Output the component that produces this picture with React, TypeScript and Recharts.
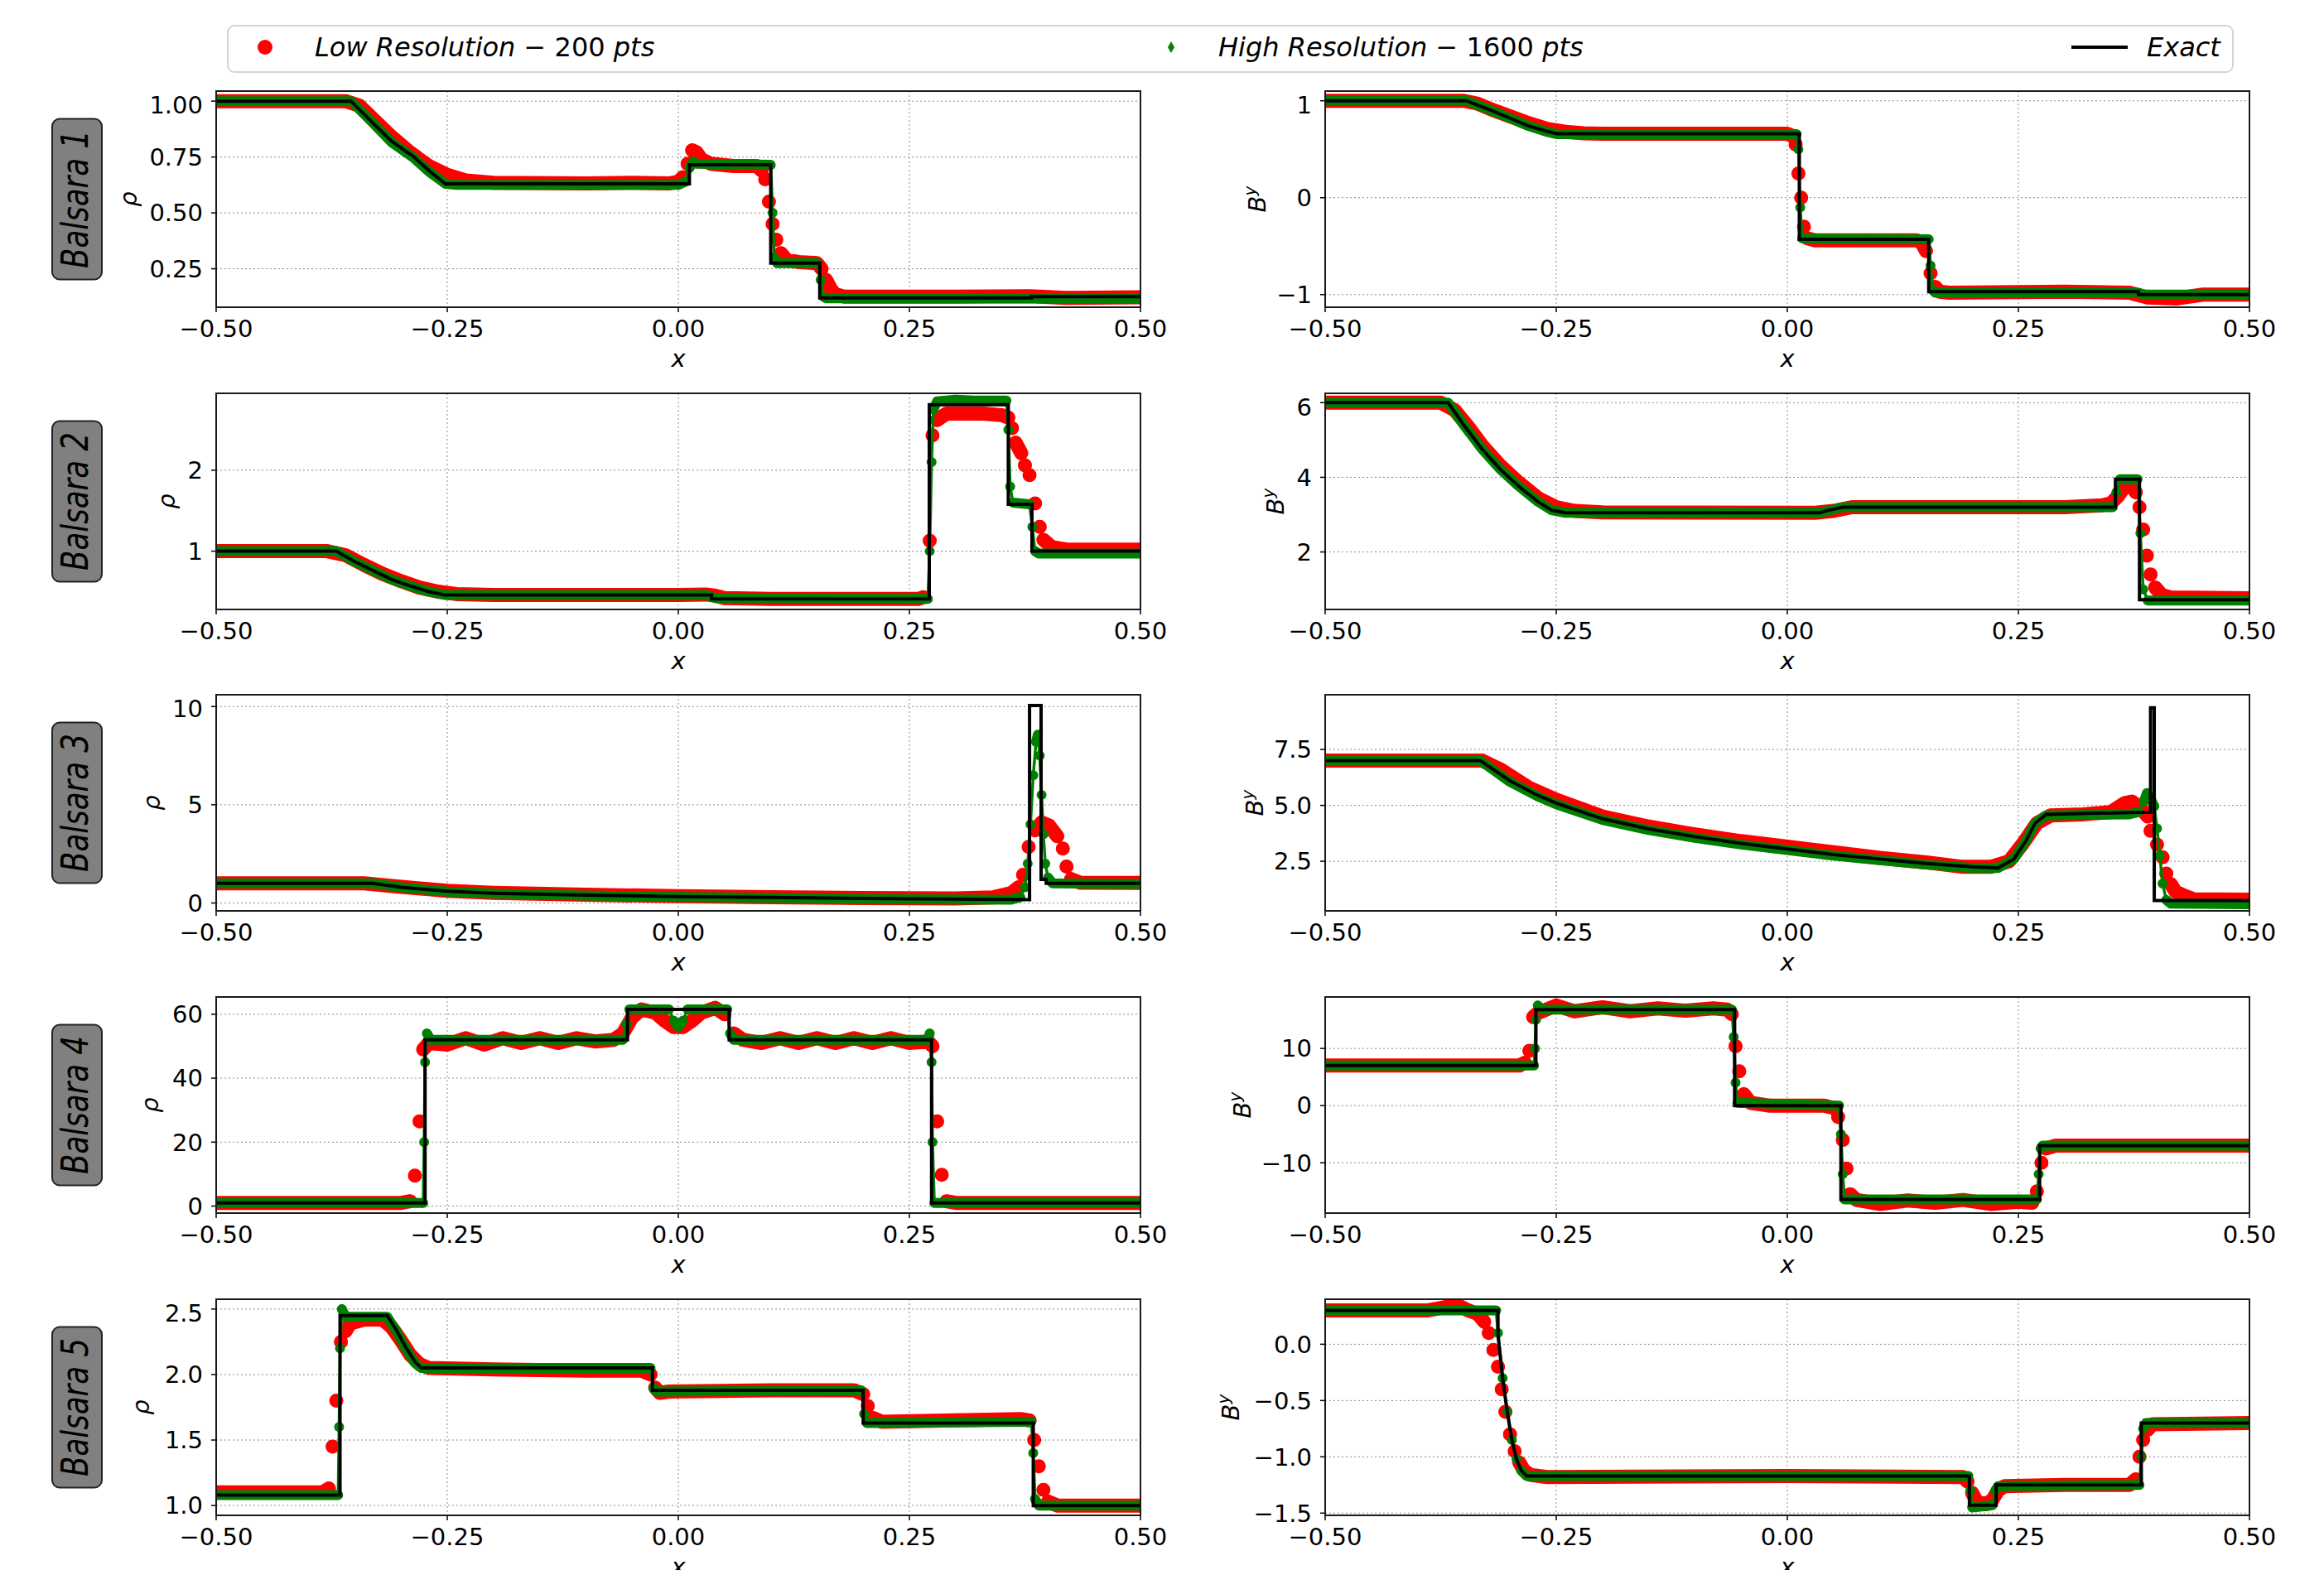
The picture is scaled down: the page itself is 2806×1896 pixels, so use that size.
import React from "react"
import { ComposedChart, Line, XAxis, YAxis, CartesianGrid } from "recharts"

type Pt = [number, number]

const xTicks = [-0.5, -0.25, 0, 0.25, 0.5]
const caseNames = ["Balsara 1", "Balsara 2", "Balsara 3", "Balsara 4", "Balsara 5"]

// ---- Balsara 1 ----
const b1RhoDomain: [number, number] = [0.078, 1.045]
const b1RhoTicks = [0.25, 0.5, 0.75, 1.0]
const b1RhoExact: Pt[] = [[-0.5, 1], [-0.354, 1], [-0.33, 0.9], [-0.31, 0.82], [-0.286, 0.75], [-0.27, 0.69], [-0.252, 0.63], [0.012, 0.63], [0.012, 0.715], [0.1, 0.715], [0.1, 0.275], [0.153, 0.275], [0.153, 0.12], [0.382, 0.12], [0.382, 0.125], [0.5, 0.125]]
const b1RhoLow: Pt[] = [[-0.5, 1], [-0.36, 1], [-0.345, 0.98], [-0.33, 0.92], [-0.31, 0.84], [-0.29, 0.77], [-0.27, 0.71], [-0.25, 0.67], [-0.23, 0.645], [-0.2, 0.635], [-0.1, 0.632], [-0.05, 0.635], [-0.01, 0.632], [0.0, 0.64], [0.005, 0.66], [0.01, 0.72], [0.015, 0.78], [0.02, 0.77], [0.025, 0.74], [0.035, 0.72], [0.06, 0.71], [0.085, 0.71], [0.09, 0.69], [0.094, 0.65], [0.098, 0.55], [0.102, 0.45], [0.106, 0.38], [0.111, 0.32], [0.117, 0.29], [0.13, 0.28], [0.15, 0.275], [0.155, 0.25], [0.16, 0.2], [0.165, 0.16], [0.17, 0.135], [0.18, 0.125], [0.3, 0.125], [0.38, 0.127], [0.42, 0.12], [0.5, 0.122]]
const b1RhoHigh: Pt[] = [[-0.5, 1], [-0.354, 1], [-0.33, 0.9], [-0.31, 0.815], [-0.286, 0.745], [-0.27, 0.685], [-0.252, 0.63], [-0.24, 0.625], [0.0, 0.625], [0.008, 0.64], [0.012, 0.7], [0.016, 0.73], [0.02, 0.72], [0.1, 0.715], [0.102, 0.5], [0.104, 0.3], [0.107, 0.275], [0.15, 0.275], [0.154, 0.2], [0.157, 0.125], [0.16, 0.118], [0.5, 0.118]]

const b1ByDomain: [number, number] = [-1.13, 1.1]
const b1ByTicks = [-1, 0, 1]
const b1ByExact: Pt[] = [[-0.5, 1], [-0.347, 1], [-0.32, 0.9], [-0.3, 0.82], [-0.28, 0.74], [-0.26, 0.685], [-0.249, 0.66], [0.013, 0.66], [0.013, -0.43], [0.153, -0.43], [0.153, -0.97], [0.38, -0.97], [0.38, -1], [0.5, -1]]
const b1ByLow: Pt[] = [[-0.5, 1], [-0.35, 1], [-0.335, 0.97], [-0.32, 0.91], [-0.3, 0.84], [-0.28, 0.77], [-0.26, 0.71], [-0.24, 0.68], [-0.22, 0.665], [-0.2, 0.66], [0.0, 0.66], [0.005, 0.64], [0.009, 0.55], [0.012, 0.25], [0.015, 0.0], [0.018, -0.3], [0.022, -0.42], [0.03, -0.44], [0.14, -0.44], [0.145, -0.46], [0.15, -0.55], [0.155, -0.78], [0.16, -0.92], [0.165, -0.97], [0.175, -0.98], [0.3, -0.97], [0.37, -0.98], [0.39, -1.03], [0.42, -1.04], [0.45, -1.0], [0.5, -1.0]]
const b1ByHigh: Pt[] = [[-0.5, 1], [-0.347, 1], [-0.32, 0.9], [-0.3, 0.82], [-0.28, 0.74], [-0.26, 0.68], [-0.249, 0.655], [0.01, 0.655], [0.012, 0.5], [0.014, -0.1], [0.016, -0.42], [0.153, -0.43], [0.155, -0.7], [0.157, -0.95], [0.16, -0.98], [0.38, -0.98], [0.385, -1.0], [0.5, -1.0]]

// ---- Balsara 2 ----
const b2RhoDomain: [number, number] = [0.28, 2.95]
const b2RhoTicks = [1, 2]
const b2RhoExact: Pt[] = [[-0.5, 1], [-0.37, 1], [-0.35, 0.87], [-0.33, 0.76], [-0.31, 0.65], [-0.29, 0.57], [-0.27, 0.5], [-0.253, 0.46], [0.036, 0.46], [0.036, 0.41], [0.2715, 0.41], [0.2715, 2.81], [0.357, 2.81], [0.357, 1.58], [0.3826, 1.58], [0.3826, 1.0], [0.5, 1.0]]
const b2RhoLow: Pt[] = [[-0.5, 1.0], [-0.38, 1.0], [-0.36, 0.95], [-0.34, 0.83], [-0.32, 0.72], [-0.3, 0.63], [-0.28, 0.55], [-0.26, 0.5], [-0.24, 0.47], [-0.2, 0.46], [0.0, 0.46], [0.03, 0.465], [0.04, 0.45], [0.05, 0.42], [0.1, 0.41], [0.26, 0.41], [0.265, 0.43], [0.272, 1.13], [0.275, 2.43], [0.28, 2.62], [0.29, 2.7], [0.33, 2.7], [0.35, 2.68], [0.357, 2.65], [0.361, 2.52], [0.365, 2.34], [0.371, 2.21], [0.375, 2.06], [0.38, 1.94], [0.386, 1.59], [0.391, 1.3], [0.395, 1.14], [0.404, 1.05], [0.42, 1.02], [0.5, 1.02]]
const b2RhoHigh: Pt[] = [[-0.5, 1.0], [-0.37, 1.0], [-0.35, 0.87], [-0.33, 0.76], [-0.31, 0.65], [-0.29, 0.57], [-0.27, 0.5], [-0.253, 0.46], [0.03, 0.46], [0.04, 0.42], [0.27, 0.41], [0.272, 1.0], [0.274, 2.1], [0.276, 2.75], [0.28, 2.85], [0.3, 2.87], [0.32, 2.86], [0.355, 2.86], [0.357, 2.5], [0.359, 1.8], [0.362, 1.6], [0.38, 1.58], [0.383, 1.3], [0.386, 1.0], [0.39, 0.97], [0.5, 0.97]]

const b2ByDomain: [number, number] = [0.46, 6.25]
const b2ByTicks = [2, 4, 6]
const b2ByExact: Pt[] = [[-0.5, 6], [-0.367, 6], [-0.35, 5.4], [-0.33, 4.75], [-0.31, 4.2], [-0.29, 3.75], [-0.27, 3.35], [-0.255, 3.12], [-0.24, 3.05], [0.035, 3.05], [0.045, 3.12], [0.06, 3.2], [0.355, 3.2], [0.355, 3.95], [0.381, 3.95], [0.381, 0.72], [0.5, 0.72]]
const b2ByLow: Pt[] = [[-0.5, 6], [-0.375, 6], [-0.36, 5.8], [-0.345, 5.35], [-0.33, 4.85], [-0.31, 4.3], [-0.29, 3.85], [-0.27, 3.45], [-0.25, 3.2], [-0.23, 3.1], [-0.2, 3.06], [0.03, 3.05], [0.05, 3.1], [0.07, 3.2], [0.3, 3.2], [0.34, 3.25], [0.35, 3.3], [0.358, 3.5], [0.365, 3.75], [0.372, 3.8], [0.377, 3.6], [0.381, 3.2], [0.385, 2.6], [0.389, 1.9], [0.393, 1.4], [0.398, 1.05], [0.405, 0.85], [0.415, 0.78], [0.5, 0.76]]
const b2ByHigh: Pt[] = [[-0.5, 6], [-0.367, 6], [-0.35, 5.4], [-0.33, 4.75], [-0.31, 4.2], [-0.29, 3.75], [-0.27, 3.35], [-0.255, 3.12], [-0.24, 3.05], [0.035, 3.05], [0.06, 3.2], [0.352, 3.2], [0.356, 3.6], [0.36, 3.95], [0.379, 3.95], [0.382, 2.5], [0.385, 1.0], [0.39, 0.7], [0.5, 0.7]]

// ---- Balsara 3 ----
const b3RhoDomain: [number, number] = [-0.4, 10.6]
const b3RhoTicks = [0, 5, 10]
const b3RhoExact: Pt[] = [[-0.5, 1], [-0.33, 1], [-0.3, 0.8], [-0.25, 0.6], [-0.2, 0.5], [-0.1, 0.4], [0, 0.33], [0.1, 0.28], [0.2, 0.23], [0.3, 0.2], [0.38, 0.17], [0.38, 10.05], [0.3925, 10.05], [0.3925, 1.2], [0.398, 1.2], [0.398, 1.0], [0.5, 1.0]]
const b3RhoLow: Pt[] = [[-0.5, 1.0], [-0.34, 1.0], [-0.3, 0.82], [-0.25, 0.62], [-0.2, 0.52], [-0.1, 0.42], [0, 0.35], [0.1, 0.3], [0.2, 0.25], [0.3, 0.23], [0.34, 0.28], [0.36, 0.5], [0.368, 0.8], [0.373, 1.43], [0.379, 2.86], [0.386, 3.7], [0.393, 4.1], [0.401, 3.95], [0.41, 3.4], [0.416, 2.77], [0.42, 1.85], [0.425, 1.22], [0.435, 1.03], [0.5, 1.02]]
const b3RhoHigh: Pt[] = [[-0.5, 1], [-0.33, 1], [-0.3, 0.8], [-0.25, 0.58], [-0.2, 0.48], [-0.1, 0.38], [0, 0.31], [0.1, 0.26], [0.2, 0.21], [0.3, 0.18], [0.36, 0.17], [0.37, 0.3], [0.375, 0.8], [0.378, 2], [0.381, 4], [0.384, 6.5], [0.387, 8.2], [0.389, 8.57], [0.391, 7.5], [0.393, 5.5], [0.395, 3.5], [0.397, 2.0], [0.4, 1.3], [0.405, 1.0], [0.5, 0.97]]

const b3ByDomain: [number, number] = [0.28, 9.95]
const b3ByTicks = [2.5, 5.0, 7.5]
const b3ByExact: Pt[] = [[-0.5, 7.0], [-0.332, 7.0], [-0.3, 6.1], [-0.27, 5.45], [-0.25, 5.1], [-0.2, 4.4], [-0.15, 3.95], [-0.1, 3.6], [-0.05, 3.3], [0, 3.05], [0.05, 2.8], [0.1, 2.6], [0.15, 2.4], [0.2, 2.25], [0.228, 2.2], [0.245, 2.6], [0.258, 3.4], [0.268, 4.2], [0.28, 4.6], [0.393, 4.7], [0.393, 9.37], [0.397, 9.37], [0.397, 0.74], [0.5, 0.74]]
const b3ByLow: Pt[] = [[-0.5, 7.0], [-0.33, 7.0], [-0.31, 6.6], [-0.28, 5.8], [-0.25, 5.25], [-0.2, 4.5], [-0.15, 4.05], [-0.1, 3.7], [-0.05, 3.4], [0, 3.15], [0.05, 2.9], [0.1, 2.65], [0.15, 2.45], [0.19, 2.25], [0.22, 2.25], [0.24, 2.5], [0.255, 3.3], [0.27, 4.2], [0.285, 4.55], [0.32, 4.6], [0.35, 4.7], [0.365, 5.1], [0.373, 5.17], [0.382, 4.9], [0.39, 4.5], [0.393, 3.86], [0.4, 3.24], [0.406, 2.68], [0.41, 1.95], [0.415, 1.47], [0.42, 1.14], [0.43, 0.95], [0.44, 0.8], [0.5, 0.78]]
const b3ByHigh: Pt[] = [[-0.5, 7.0], [-0.332, 7.0], [-0.3, 6.05], [-0.27, 5.4], [-0.25, 5.05], [-0.2, 4.35], [-0.15, 3.9], [-0.1, 3.55], [-0.05, 3.25], [0, 3.0], [0.05, 2.75], [0.1, 2.55], [0.15, 2.35], [0.2, 2.2], [0.228, 2.2], [0.245, 2.6], [0.258, 3.4], [0.268, 4.2], [0.28, 4.55], [0.37, 4.6], [0.38, 4.7], [0.386, 5.2], [0.389, 5.55], [0.393, 5.3], [0.397, 4.96], [0.4, 3.97], [0.403, 2.75], [0.406, 1.5], [0.41, 0.77], [0.415, 0.6], [0.5, 0.58]]

// ---- Balsara 4 ----
const b4RhoDomain: [number, number] = [-2.2, 65.4]
const b4RhoTicks = [0, 20, 40, 60]
const b4RhoExact: Pt[] = [[-0.5, 1], [-0.274, 1], [-0.274, 52], [-0.055, 52], [-0.055, 61.5], [0.055, 61.5], [0.055, 52], [0.274, 52], [0.274, 1], [0.5, 1]]
const b4RhoLow: Pt[] = [[-0.5, 1], [-0.3, 1], [-0.29, 1.5], [-0.285, 9.5], [-0.28, 26.5], [-0.276, 49], [-0.27, 51], [-0.25, 50.5], [-0.23, 52.5], [-0.21, 50.5], [-0.19, 52.5], [-0.17, 51], [-0.15, 52.5], [-0.13, 51], [-0.11, 52.5], [-0.09, 51.5], [-0.07, 52], [-0.06, 54], [-0.05, 59], [-0.04, 61.5], [-0.025, 60.5], [-0.015, 58], [-0.005, 56], [0.005, 56], [0.015, 58], [0.025, 60.5], [0.04, 62], [0.05, 60], [0.06, 54], [0.07, 52], [0.09, 51], [0.11, 52.5], [0.13, 51], [0.15, 52.5], [0.17, 51], [0.19, 52.5], [0.21, 51], [0.23, 52.5], [0.25, 51], [0.27, 51.5], [0.275, 50], [0.28, 26.5], [0.285, 9.8], [0.29, 1.5], [0.3, 1], [0.5, 1]]
const b4RhoHigh: Pt[] = [[-0.5, 1], [-0.276, 1], [-0.275, 20], [-0.274, 45], [-0.272, 54], [-0.268, 52], [-0.2, 52], [-0.06, 52], [-0.056, 57], [-0.053, 61.5], [-0.01, 61.5], [-0.005, 58], [0, 56], [0.005, 58], [0.01, 61.5], [0.053, 61.5], [0.056, 54], [0.06, 52], [0.27, 52], [0.272, 54], [0.274, 45], [0.275, 20], [0.277, 1], [0.5, 1]]

const b4ByDomain: [number, number] = [-18.8, 19.0]
const b4ByTicks = [-10, 0, 10]
const b4ByExact: Pt[] = [[-0.5, 7], [-0.272, 7], [-0.272, 16.8], [-0.057, 16.8], [-0.057, 0], [0.058, 0], [0.058, -16.4], [0.273, -16.4], [0.273, -7], [0.5, -7]]
const b4ByLow: Pt[] = [[-0.5, 7], [-0.29, 7], [-0.284, 7.5], [-0.279, 9.6], [-0.275, 15.5], [-0.27, 16.2], [-0.25, 17.5], [-0.23, 16.5], [-0.2, 17.2], [-0.17, 16.5], [-0.14, 17], [-0.11, 16.6], [-0.08, 17], [-0.065, 16.8], [-0.06, 16], [-0.056, 10.4], [-0.052, 6], [-0.047, 2], [-0.04, 0.5], [-0.02, 0], [0.04, 0], [0.052, -0.5], [0.055, -2], [0.06, -6], [0.064, -11], [0.068, -15.5], [0.075, -16.5], [0.1, -17.2], [0.13, -16.6], [0.16, -17], [0.19, -16.5], [0.22, -17.2], [0.25, -16.8], [0.265, -17], [0.27, -15], [0.275, -10], [0.28, -7.5], [0.29, -7], [0.5, -7]]
const b4ByHigh: Pt[] = [[-0.5, 7], [-0.274, 7], [-0.273, 10], [-0.272, 15], [-0.27, 17.5], [-0.265, 16.8], [-0.06, 16.8], [-0.058, 12], [-0.056, 4], [-0.054, 0.5], [0.056, 0], [0.058, -5], [0.06, -12], [0.062, -16.4], [0.27, -16.4], [0.272, -12], [0.274, -7.5], [0.276, -7], [0.5, -7]]

// ---- Balsara 5 ----
const b5RhoDomain: [number, number] = [0.925, 2.575]
const b5RhoTicks = [1.0, 1.5, 2.0, 2.5]
const b5RhoExact: Pt[] = [[-0.5, 1.08], [-0.366, 1.08], [-0.366, 2.45], [-0.315, 2.45], [-0.305, 2.34], [-0.295, 2.21], [-0.285, 2.1], [-0.278, 2.05], [-0.028, 2.05], [-0.028, 1.88], [0.2, 1.88], [0.2, 1.63], [0.384, 1.63], [0.384, 1.0], [0.5, 1.0]]
const b5RhoLow: Pt[] = [[-0.5, 1.1], [-0.385, 1.1], [-0.378, 1.13], [-0.374, 1.45], [-0.37, 1.8], [-0.365, 2.25], [-0.36, 2.33], [-0.355, 2.39], [-0.34, 2.42], [-0.32, 2.42], [-0.31, 2.36], [-0.3, 2.26], [-0.29, 2.15], [-0.28, 2.08], [-0.27, 2.05], [-0.2, 2.04], [-0.1, 2.03], [-0.04, 2.03], [-0.03, 2.0], [-0.025, 1.9], [-0.02, 1.86], [-0.01, 1.87], [0.1, 1.88], [0.19, 1.88], [0.2, 1.85], [0.205, 1.76], [0.21, 1.67], [0.22, 1.64], [0.3, 1.65], [0.37, 1.66], [0.38, 1.65], [0.385, 1.5], [0.39, 1.3], [0.395, 1.12], [0.4, 1.03], [0.41, 1.0], [0.5, 1.0]]
const b5RhoHigh: Pt[] = [[-0.5, 1.08], [-0.368, 1.08], [-0.367, 1.6], [-0.366, 2.2], [-0.364, 2.5], [-0.36, 2.44], [-0.315, 2.44], [-0.305, 2.33], [-0.295, 2.2], [-0.285, 2.09], [-0.278, 2.05], [-0.03, 2.05], [-0.027, 1.9], [-0.024, 1.87], [0.198, 1.88], [0.201, 1.7], [0.204, 1.63], [0.382, 1.64], [0.384, 1.4], [0.386, 1.05], [0.39, 1.0], [0.5, 1.0]]

const b5ByDomain: [number, number] = [-1.52, 0.4]
const b5ByTicks = [-1.5, -1.0, -0.5, 0.0]
const b5ByExact: Pt[] = [[-0.5, 0.3], [-0.313, 0.3], [-0.313, 0.08], [-0.308, -0.3], [-0.303, -0.6], [-0.298, -0.85], [-0.293, -1.02], [-0.288, -1.12], [-0.282, -1.17], [0.197, -1.17], [0.197, -1.43], [0.226, -1.43], [0.226, -1.25], [0.383, -1.25], [0.383, -0.7], [0.5, -0.7]]
const b5ByLow: Pt[] = [[-0.5, 0.3], [-0.39, 0.3], [-0.37, 0.33], [-0.355, 0.34], [-0.345, 0.3], [-0.335, 0.27], [-0.328, 0.2], [-0.323, 0.1], [-0.318, -0.05], [-0.313, -0.2], [-0.309, -0.4], [-0.305, -0.6], [-0.3, -0.8], [-0.295, -0.95], [-0.29, -1.05], [-0.285, -1.12], [-0.278, -1.16], [-0.26, -1.18], [0.0, -1.17], [0.19, -1.18], [0.195, -1.22], [0.2, -1.32], [0.205, -1.4], [0.215, -1.42], [0.222, -1.38], [0.228, -1.3], [0.235, -1.26], [0.3, -1.25], [0.37, -1.25], [0.377, -1.2], [0.381, -1.0], [0.385, -0.85], [0.39, -0.76], [0.395, -0.71], [0.5, -0.7]]
const b5ByHigh: Pt[] = [[-0.5, 0.3], [-0.315, 0.3], [-0.313, 0.1], [-0.308, -0.3], [-0.303, -0.6], [-0.298, -0.85], [-0.293, -1.02], [-0.288, -1.12], [-0.282, -1.17], [0.196, -1.17], [0.198, -1.3], [0.2, -1.45], [0.222, -1.43], [0.225, -1.3], [0.228, -1.26], [0.381, -1.25], [0.383, -1.0], [0.385, -0.75], [0.388, -0.7], [0.5, -0.7]]

// ---- layout ----
const FONT = "'DejaVu Sans', 'Liberation Sans', sans-serif"
const PW = 1116
const PH = 261
const YW = 130
const XH = 60
const RM = 40
const colLeft = [261, 1600]
const rowTop = [110, 475, 839, 1204, 1569]

type PanelDef = {
  low: Pt[]
  high: Pt[]
  exact: Pt[]
  domain: [number, number]
  ticks: number[]
  dec: number
  label: "rho" | "by"
  labelDx: number
}

const panels: PanelDef[][] = [
  [
    { low: b1RhoLow, high: b1RhoHigh, exact: b1RhoExact, domain: b1RhoDomain, ticks: b1RhoTicks, dec: 2, label: "rho", labelDx: -96 },
    { low: b1ByLow, high: b1ByHigh, exact: b1ByExact, domain: b1ByDomain, ticks: b1ByTicks, dec: 0, label: "by", labelDx: -72 },
  ],
  [
    { low: b2RhoLow, high: b2RhoHigh, exact: b2RhoExact, domain: b2RhoDomain, ticks: b2RhoTicks, dec: 0, label: "rho", labelDx: -50 },
    { low: b2ByLow, high: b2ByHigh, exact: b2ByExact, domain: b2ByDomain, ticks: b2ByTicks, dec: 0, label: "by", labelDx: -50 },
  ],
  [
    { low: b3RhoLow, high: b3RhoHigh, exact: b3RhoExact, domain: b3RhoDomain, ticks: b3RhoTicks, dec: 0, label: "rho", labelDx: -68 },
    { low: b3ByLow, high: b3ByHigh, exact: b3ByExact, domain: b3ByDomain, ticks: b3ByTicks, dec: 1, label: "by", labelDx: -75 },
  ],
  [
    { low: b4RhoLow, high: b4RhoHigh, exact: b4RhoExact, domain: b4RhoDomain, ticks: b4RhoTicks, dec: 0, label: "rho", labelDx: -70 },
    { low: b4ByLow, high: b4ByHigh, exact: b4ByExact, domain: b4ByDomain, ticks: b4ByTicks, dec: 0, label: "by", labelDx: -90 },
  ],
  [
    { low: b5RhoLow, high: b5RhoHigh, exact: b5RhoExact, domain: b5RhoDomain, ticks: b5RhoTicks, dec: 1, label: "rho", labelDx: -81 },
    { low: b5ByLow, high: b5ByHigh, exact: b5ByExact, domain: b5ByDomain, ticks: b5ByTicks, dec: 1, label: "by", labelDx: -104 },
  ],
]

const fmt = (v: number, dec: number) => v.toFixed(dec).replace("-", "\u2212")

const toXY = (pts: Pt[]) => pts.map(([x, y]) => ({ x, y }))

// split the thick band wherever the data jumps steeply on screen
function bandData(pts: Pt[], domain: [number, number]) {
  const span = domain[1] - domain[0]
  const out: { x: number; y: number | null }[] = []
  pts.forEach(([x, y], i) => {
    if (i > 0) {
      const [px, py] = pts[i - 1]
      const dxPx = Math.abs(x - px) * PW
      const dyPx = (Math.abs(y - py) / span) * PH
      if (dyPx > 10 && dyPx > 2 * dxPx) out.push({ x: (x + px) / 2, y: null })
    }
    out.push({ x, y })
  })
  return out
}

const redDot = (p: any) =>
  p.cy == null || p.value == null ? (
    <g key={p.index} />
  ) : (
    <circle key={p.index} cx={p.cx} cy={p.cy} r={8} fill="#ff0000" />
  )

const greenDiamond = (p: any) =>
  p.cy == null || p.value == null ? (
    <g key={p.index} />
  ) : (
    <path
      key={p.index}
      d={`M${p.cx},${p.cy - 5.5}L${p.cx + 3.5},${p.cy}L${p.cx},${p.cy + 5.5}L${p.cx - 3.5},${p.cy}Z`}
      fill="#008000"
    />
  )

const tickStyle = { fontSize: 29, fill: "#000", fontFamily: FONT }
const CW = YW + PW + RM
const CH = PH + XH
const layerStyle: React.CSSProperties = { position: "absolute", left: 0, top: 0 }

// hidden axes so that overlay layers share the same scales as the base layer
function HiddenAxes({ p }: { p: PanelDef }) {
  return (
    <>
      <XAxis dataKey="x" type="number" domain={[-0.5, 0.5]} allowDataOverflow hide />
      <YAxis type="number" domain={p.domain} allowDataOverflow hide />
    </>
  )
}

function Panel({ p, left, top }: { p: PanelDef; left: number; top: number }) {
  const overlayMargin = { top: 0, right: RM, bottom: XH, left: YW }
  return (
    <div style={{ position: "absolute", left: left - YW, top, width: CW, height: CH }}>
      {/* base layer: grid, axes, low resolution */}
      <div style={layerStyle}>
        <ComposedChart width={CW} height={CH} margin={{ top: 0, right: RM, bottom: 0, left: 0 }}>
          <CartesianGrid stroke="#8a8a8a" strokeDasharray="2 3" strokeWidth={1} />
          <XAxis
            dataKey="x"
            type="number"
            domain={[-0.5, 0.5]}
            ticks={xTicks}
            allowDataOverflow
            height={XH}
            axisLine={false}
            tickLine={{ stroke: "#000", strokeWidth: 1.5 }}
            tickSize={6}
            tickMargin={9}
            tick={tickStyle}
            tickFormatter={(v: number) => fmt(v, 2)}
          />
          <YAxis
            type="number"
            domain={p.domain}
            ticks={p.ticks}
            allowDataOverflow
            width={YW}
            axisLine={false}
            tickLine={{ stroke: "#000", strokeWidth: 1.5 }}
            tickSize={6}
            tickMargin={10}
            tick={tickStyle}
            tickFormatter={(v: number) => fmt(v, p.dec)}
          />
          <Line
            data={bandData(p.low, p.domain)}
            dataKey="y"
            type="linear"
            stroke="#ff0000"
            strokeWidth={17}
            strokeLinejoin="round"
            strokeLinecap="round"
            dot={redDot}
            activeDot={false}
            isAnimationActive={false}
          />
        </ComposedChart>
      </div>
      {/* high resolution */}
      <div style={layerStyle}>
        <ComposedChart width={CW} height={CH} margin={overlayMargin}>
          {HiddenAxes({ p })}
          <Line
            data={toXY(p.high)}
            dataKey="y"
            type="linear"
            stroke="#008000"
            strokeWidth={3.5}
            dot={greenDiamond}
            activeDot={false}
            isAnimationActive={false}
          />
        </ComposedChart>
      </div>
      <div style={layerStyle}>
        <ComposedChart width={CW} height={CH} margin={overlayMargin}>
          {HiddenAxes({ p })}
          <Line
            data={bandData(p.high, p.domain)}
            dataKey="y"
            type="linear"
            stroke="#008000"
            strokeWidth={12}
            strokeLinejoin="round"
            strokeLinecap="round"
            dot={false}
            activeDot={false}
            isAnimationActive={false}
          />
        </ComposedChart>
      </div>
      {/* exact solution */}
      <div style={layerStyle}>
        <ComposedChart width={CW} height={CH} margin={overlayMargin}>
          {HiddenAxes({ p })}
          <Line
            data={toXY(p.exact)}
            dataKey="y"
            type="linear"
            stroke="#000"
            strokeWidth={4}
            strokeLinejoin="miter"
            dot={false}
            activeDot={false}
            isAnimationActive={false}
          />
        </ComposedChart>
      </div>
    </div>
  )
}

function YLabel({ p, left, top }: { p: PanelDef; left: number; top: number }) {
  const bx = left + p.labelDx
  const cy = top + PH / 2
  if (p.label === "rho") {
    return (
      <text transform={`translate(${bx},${cy}) rotate(-90)`} textAnchor="middle" fontSize={29} fontStyle="italic" fontFamily={FONT}>
        ρ
      </text>
    )
  }
  return (
    <text transform={`translate(${bx},${cy}) rotate(-90)`} textAnchor="middle" fontSize={29} fontStyle="italic" fontFamily={FONT}>
      <tspan>B</tspan>
      <tspan dy={-12} fontSize={20}>y</tspan>
    </text>
  )
}

export default function App() {
  return (
    <div style={{ position: "absolute", left: 0, top: 0, width: 2806, height: 1896, overflow: "hidden", background: "#fff" }}>
      {panels.map((row, r) => row.map((p, c) => <Panel key={`${r}-${c}`} p={p} left={colLeft[c]} top={rowTop[r]} />))}
      <svg width={2806} height={1896} style={{ position: "absolute", left: 0, top: 0, pointerEvents: "none" }}>
        {/* legend */}
        <rect x={275} y={31} width={2421} height={56} rx={8} fill="#fff" stroke="#d4d4d4" strokeWidth={2} />
        <circle cx={320} cy={57} r={9} fill="#ff0000" />
        <text x={380} y={68} fontSize={32} fontFamily={FONT}>
          <tspan fontStyle="italic">Low Resolution</tspan>
          <tspan> − 200 </tspan>
          <tspan fontStyle="italic">pts</tspan>
        </text>
        <path d="M1414,50L1418,57L1414,64L1410,57Z" fill="#008000" />
        <text x={1471} y={68} fontSize={32} fontFamily={FONT}>
          <tspan fontStyle="italic">High Resolution</tspan>
          <tspan> − 1600 </tspan>
          <tspan fontStyle="italic">pts</tspan>
        </text>
        <line x1={2501} y1={57} x2={2569} y2={57} stroke="#000" strokeWidth={4} />
        <text x={2592} y={68} fontSize={32} fontStyle="italic" fontFamily={FONT}>
          Exact
        </text>

        {panels.map((row, r) =>
          row.map((p, c) => {
            const left = colLeft[c]
            const top = rowTop[r]
            return (
              <g key={`o-${r}-${c}`}>
                <rect x={left} y={top} width={PW} height={PH} fill="none" stroke="#1a1a1a" strokeWidth={2} />
                <text x={left + PW / 2} y={top + PH + 72} textAnchor="middle" fontSize={29} fontStyle="italic" fontFamily={FONT}>
                  x
                </text>
                <YLabel p={p} left={left} top={top} />
              </g>
            )
          })
        )}

        {/* row labels */}
        {caseNames.map((name, r) => {
          const cy = rowTop[r] + PH / 2
          return (
            <g key={name}>
              <rect x={63} y={cy - 97} width={60} height={194} rx={9} fill="#808080" stroke="#222" strokeWidth={2} />
              <text
                transform={`translate(93,${cy}) rotate(-90) scale(0.81,1)`}
                y={13}
                textAnchor="middle"
                fontSize={44}
                fontStyle="italic"
                fontFamily={FONT}
                fill="#000"
              >
                {name}
              </text>
            </g>
          )
        })}
      </svg>
    </div>
  )
}
